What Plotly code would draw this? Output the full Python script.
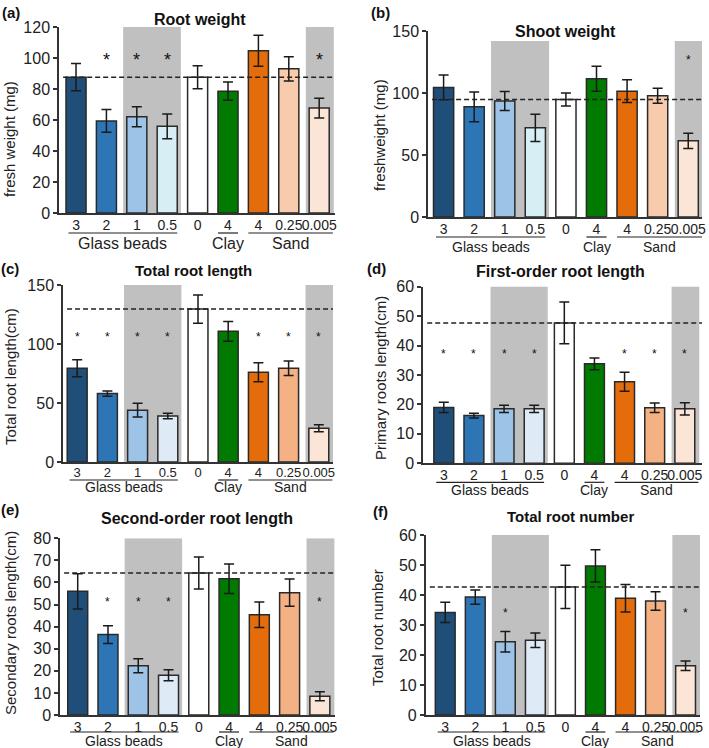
import plotly.graph_objects as go

W, H = 709, 748

# ---------------- data ----------------
tick_labels = ["3", "2", "1", "0.5", "0", "4", "4", "0.25", "0.005"]
groups = ["Glass beads", "Clay", "Sand"]

colors_ab = ["#1f4e79", "#2e75b6", "#9dc3e6", "#d7eef4", "#ffffff",
             "#007a00", "#e46c0a", "#f8cbad", "#fbe5d6"]
colors_cf = ["#1f4e79", "#2e75b6", "#9dc3e6", "#deebf7", "#ffffff",
             "#007a00", "#e46c0a", "#f4b183", "#fbe5d6"]

root_weight = [87.6, 59.4, 62.1, 55.9, 87.6, 78.6, 104.6, 93.0, 67.7]
root_weight_err = [8.8, 7.3, 6.4, 8.0, 7.4, 5.9, 10.0, 7.8, 6.4]
root_weight_stars = [1, 2, 3, 8]

shoot_weight = [104.5, 88.9, 93.5, 71.9, 94.8, 111.5, 101.5, 97.8, 61.4]
shoot_weight_err = [10.0, 12.0, 7.7, 11.0, 5.3, 10.0, 9.2, 6.0, 6.2]
shoot_weight_stars = [8]

total_root_length = [79.5, 58.0, 43.9, 39.0, 129.6, 110.7, 76.1, 79.5, 28.6]
total_root_length_err = [7.2, 2.2, 5.8, 2.4, 12.0, 8.3, 8.0, 6.1, 3.0]
total_root_length_stars = [0, 1, 2, 3, 6, 7, 8]

first_order_length = [19.0, 16.2, 18.5, 18.5, 47.7, 33.8, 27.7, 18.9, 18.5]
first_order_length_err = [1.7, 0.8, 1.2, 1.2, 7.1, 2.0, 3.2, 1.6, 2.1]
first_order_length_stars = [0, 1, 2, 3, 6, 7, 8]

second_order_length = [56.0, 36.4, 22.3, 18.0, 64.3, 61.7, 45.4, 55.4, 8.5]
second_order_length_err = [8.0, 4.0, 3.2, 2.5, 7.2, 6.7, 5.8, 6.2, 2.0]
second_order_length_stars = [1, 2, 3, 8]

total_root_number = [34.2, 39.3, 24.4, 24.9, 42.7, 49.7, 38.9, 38.0, 16.4]
total_root_number_err = [3.4, 2.4, 3.4, 2.4, 7.2, 5.4, 4.6, 3.1, 1.6]
total_root_number_stars = [2, 8]

# ---------------- layout geometry (pixels) ----------------
panels = [
    dict(label="(a)", title="Root weight", ytitle="fresh weight (mg)",
         vals=root_weight, err=root_weight_err, stars=root_weight_stars, star_y=100.7,
         colors=colors_ab, l=59, r=335, t=27, b=213, xr=[-0.56, 8.52], yr=[0, 120], dtick=20,
         shade_top=120, title_xy=(200, 20), title_size=16, lab_xy=(11, 13),
         ytitle_xy=(10, 139), star_size=18, xtick_size=14, grp_size=16,
         ul_off=20, grp_off=30),
    dict(label="(b)", title="Shoot weight", ytitle="freshweight (mg)",
         vals=shoot_weight, err=shoot_weight_err, stars=shoot_weight_stars, star_y=128,
         colors=colors_ab, l=428, r=702, t=31, b=217, xr=[-0.51, 8.45], yr=[0, 150], dtick=50,
         shade_top=142, title_xy=(565, 31), title_size=16, lab_xy=(380, 13),
         ytitle_xy=(380, 135), star_size=12, xtick_size=14, grp_size=14,
         ul_off=20, grp_off=30),
    dict(label="(c)", title="Total root length", ytitle="Total root length(cm)",
         vals=total_root_length, err=total_root_length_err, stars=total_root_length_stars, star_y=107.6,
         colors=colors_cf, l=63, r=333, t=285, b=462, xr=[-0.47, 8.47], yr=[0, 150], dtick=50,
         shade_top=150, title_xy=(193, 270), title_size=15, lab_xy=(10, 268),
         ytitle_xy=(10, 377), star_size=12, xtick_size=13, grp_size=14,
         ul_off=18, grp_off=25),
    dict(label="(d)", title="First-order root length", ytitle="Primary roots length(cm)",
         vals=first_order_length, err=first_order_length_err, stars=first_order_length_stars, star_y=37.9,
         colors=colors_cf, l=423, r=702, t=286.7, b=463.3, xr=[-0.69, 8.57], yr=[0, 60], dtick=10,
         shade_top=61, title_xy=(560, 271), title_size=16, lab_xy=(377, 268),
         ytitle_xy=(380, 378), star_size=12, xtick_size=14, grp_size=14,
         ul_off=19, grp_off=27),
    dict(label="(e)", title="Second-order root length", ytitle="Secondary roots length(cm)",
         vals=second_order_length, err=second_order_length_err, stars=second_order_length_stars, star_y=52,
         colors=colors_cf, l=60, r=335, t=538.3, b=715, xr=[-0.585, 8.5], yr=[0, 80], dtick=10,
         shade_top=80, title_xy=(197, 518), title_size=16, lab_xy=(10, 510),
         ytitle_xy=(10, 623), star_size=12, xtick_size=14, grp_size=14,
         ul_off=17, grp_off=26),
    dict(label="(f)", title="Total root number", ytitle="Total root number",
         vals=total_root_number, err=total_root_number_err, stars=total_root_number_stars, star_y=34.7,
         colors=colors_cf, l=425.7, r=700, t=535, b=715, xr=[-0.65, 8.48], yr=[0, 60], dtick=10,
         shade_top=60, title_xy=(570, 516), title_size=15, lab_xy=(380, 512),
         ytitle_xy=(377, 627), star_size=12, xtick_size=14, grp_size=14,
         ul_off=17, grp_off=26),
]

group_spans = [(-0.25, 3.33), (4.67, 5.33), (5.67, 8.45)]
shade_spans = [(1.55, 3.45), (7.56, 8.48)]

FONT = "Liberation Sans, Arial, sans-serif"
AX = "#333333"

fig = go.Figure()
shapes = []
annotations = []
layout = {}


def py(p):
    return 1 - p / H


def pxx(p):
    return p / W


for k, p in enumerate(panels):
    n = "" if k == 0 else str(k + 1)
    xa, ya = "x" + n, "y" + n
    xs = list(range(len(tick_labels)))
    fig.add_trace(go.Bar(
        x=xs, y=p["vals"], width=0.66,
        marker=dict(color=p["colors"], line=dict(color="#2a2a2a", width=1.5)),
        error_y=dict(type="data", array=p["err"], visible=True, color="#1a1a1a",
                     thickness=1.5, width=5),
        xaxis=xa, yaxis=ya, showlegend=False, hoverinfo="skip"))

    layout["xaxis" + n] = dict(
        domain=[pxx(p["l"]), pxx(p["r"])], range=p["xr"], anchor=ya, automargin=False,
        tickmode="array", tickvals=xs, ticktext=tick_labels, ticks="", tickangle=0,
        ticklabelstandoff=-2,
        showline=True, linecolor=AX, linewidth=1.5, showgrid=False, zeroline=False,
        tickfont=dict(size=p["xtick_size"], color="#222", family=FONT), fixedrange=True)
    layout["yaxis" + n] = dict(
        domain=[py(p["b"]), py(p["t"])], range=p["yr"], anchor=xa, dtick=p["dtick"],
        automargin=False,
        ticks="outside", ticklen=4, tickwidth=1.5, tickcolor=AX,
        showline=True, linecolor=AX, linewidth=1.5, showgrid=False, zeroline=False,
        tickfont=dict(size=16, color="#222", family=FONT), fixedrange=True)

    # grey shading
    for (s0, s1) in shade_spans:
        shapes.append(dict(type="rect", xref=xa, yref=ya, x0=s0, x1=min(s1, p["xr"][1]),
                           y0=0, y1=p["shade_top"], fillcolor="#c0c0c0",
                           line=dict(width=0), layer="below"))
    # dashed control line
    shapes.append(dict(type="line", xref=xa + " domain", yref=ya, x0=0.015, x1=1,
                       y0=p["vals"][4], y1=p["vals"][4],
                       line=dict(color="#222", width=1.5, dash="5px,3px"), layer="above"))
    # group underlines + labels
    for (g0, g1), gname in zip(group_spans, groups):
        shapes.append(dict(type="line", xref=xa, yref="paper", x0=g0, x1=g1,
                           y0=py(p["b"] + p["ul_off"]), y1=py(p["b"] + p["ul_off"]),
                           line=dict(color="#222", width=1.2)))
        annotations.append(dict(text=gname, xref=xa, yref="paper", x=(g0 + g1) / 2,
                                y=py(p["b"] + p["grp_off"]), showarrow=False,
                                xanchor="center", yanchor="middle",
                                font=dict(size=p["grp_size"], color="#222", family=FONT)))
    # stars
    for i in p["stars"]:
        annotations.append(dict(text="*", xref=xa, yref=ya, x=i, y=p["star_y"],
                                showarrow=False, xanchor="center", yanchor="middle",
                                yshift=-0.18 * p["star_size"],
                                font=dict(size=p["star_size"], color="#111", family=FONT)))
    # title
    annotations.append(dict(text="<b>" + p["title"] + "</b>", xref="paper", yref="paper",
                            x=pxx(p["title_xy"][0]), y=py(p["title_xy"][1]), showarrow=False,
                            xanchor="center", yanchor="middle",
                            font=dict(size=p["title_size"], color="#111", family=FONT)))
    # panel label
    annotations.append(dict(text="<b>" + p["label"] + "</b>", xref="paper", yref="paper",
                            x=pxx(p["lab_xy"][0]), y=py(p["lab_xy"][1]), showarrow=False,
                            xanchor="center", yanchor="middle",
                            font=dict(size=15, color="#111", family=FONT)))
    # y title
    annotations.append(dict(text=p["ytitle"], xref="paper", yref="paper",
                            x=pxx(p["ytitle_xy"][0]), y=py(p["ytitle_xy"][1]), showarrow=False,
                            xanchor="center", yanchor="middle", textangle=-90,
                            font=dict(size=15, color="#222", family=FONT)))

fig.update_layout(
    width=W, height=H, margin=dict(l=0, r=0, t=0, b=0, autoexpand=False),
    paper_bgcolor="white", plot_bgcolor="white",
    font=dict(family=FONT, color="#222"),
    shapes=shapes, annotations=annotations, bargap=0.3,
    **layout)

fig.write_html("out.html", config={"displayModeBar": False},
               post_script="document.body.style.margin='0';document.body.style.overflow='hidden';")
